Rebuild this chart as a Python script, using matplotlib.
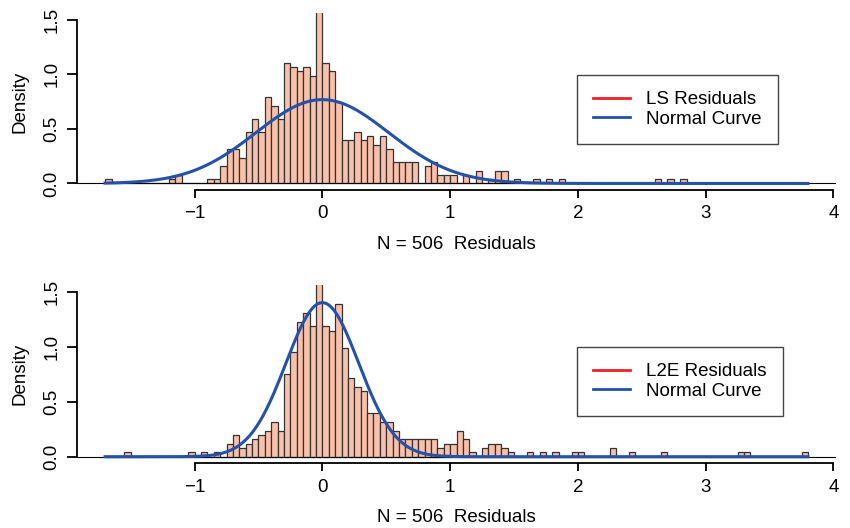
import matplotlib.pyplot as plt
import numpy as np

plt.rcParams['font.family'] = ['Liberation Sans', 'DejaVu Sans']

# histogram bins: left edge of each non-empty bin (width 0.05) and its count
ls_left = [-1.70, -1.20, -1.15, -0.90, -0.85, -0.80, -0.75, -0.70, -0.65, -0.60,
           -0.55, -0.50, -0.45, -0.40, -0.35, -0.30, -0.25, -0.20, -0.15, -0.10,
           -0.05, 0.00, 0.05, 0.10, 0.15, 0.20, 0.25, 0.30, 0.35, 0.40,
           0.45, 0.50, 0.55, 0.60, 0.65, 0.70, 0.80, 0.85, 0.90, 0.95,
           1.00, 1.10, 1.20, 1.30, 1.35, 1.40, 1.50, 1.65, 1.75, 1.85,
           2.60, 2.70, 2.80]
ls_counts = [1, 1, 2, 1, 1, 4, 8, 8, 6, 12,
             15, 12, 20, 18, 15, 28, 27, 26, 27, 25,
             41, 28, 26, 19, 10, 10, 12, 10, 11, 9,
             11, 8, 5, 5, 5, 5, 4, 5, 2, 2,
             2, 2, 3, 1, 3, 3, 1, 1, 1, 1,
             1, 1, 1]

l2e_left = [-1.55, -1.05, -0.95, -0.85, -0.75, -0.70, -0.65, -0.60, -0.55, -0.50,
            -0.45, -0.40, -0.35, -0.30, -0.25, -0.20, -0.15, -0.10, -0.05, 0.00,
            0.05, 0.10, 0.15, 0.20, 0.25, 0.30, 0.35, 0.40, 0.45, 0.50,
            0.55, 0.60, 0.65, 0.70, 0.75, 0.80, 0.85, 0.90, 0.95, 1.00,
            1.05, 1.10, 1.15, 1.25, 1.30, 1.35, 1.40, 1.45, 1.60, 1.70,
            1.80, 1.95, 2.00, 2.25, 2.40, 2.65, 3.25, 3.30, 3.75]
l2e_counts = [1, 1, 1, 1, 3, 5, 2, 3, 4, 5,
              6, 8, 6, 19, 24, 31, 33, 30, 47, 30,
              29, 35, 25, 18, 16, 15, 10, 10, 8, 8,
              6, 4, 4, 4, 4, 4, 4, 2, 3, 3,
              6, 4, 1, 2, 3, 3, 2, 1, 1, 1,
              1, 1, 1, 2, 1, 1, 1, 1, 1]

panels = [
    ("LS Residuals", ls_left, ls_counts, 0.519),
    ("L2E Residuals", l2e_left, l2e_counts, 0.285),
]
x_min, x_max = -1.70, 3.80
bin_w = 0.05

fill = '#F9C0AA'
blue = '#2552A8'
red = '#EE2128'
fs = 13.5

fig = plt.figure(figsize=(8.5, 5.28), dpi=100)
ax_rects = [[77/850, 1-190/528, 759/850, 176.7/528],
            [77/850, 1-463.3/528, 759/850, 178.3/528]]
leg_pos = [(577/850, 1-75/528), (577/850, 1-347/528)]

edges = np.round(np.arange(-34, 77) * bin_w, 2)
xs = np.linspace(x_min, x_max, 400)

for i, (name, left, counts, sd) in enumerate(panels):
    ax = fig.add_axes(ax_rects[i])
    centers = np.array(left) + bin_w / 2
    ax.hist(centers, bins=edges, weights=counts, density=True,
            color=fill, edgecolor='#333333', linewidth=0.9)
    ax.axhline(0, color='black', lw=0.8)
    pdf = np.exp(-0.5 * (xs / sd) ** 2) / (sd * np.sqrt(2 * np.pi))
    ax.plot(xs, pdf, color=blue, lw=2.2)

    ax.set_xlim(-1.92, 4.02)
    ax.set_ylim(-0.06, 1.56)
    for s in ['top', 'right']:
        ax.spines[s].set_visible(False)
    ax.spines['left'].set_bounds(0, 1.5)
    ax.spines['bottom'].set_bounds(-1, 4)
    ax.spines['left'].set_linewidth(1.3)
    ax.spines['bottom'].set_linewidth(1.3)
    ax.set_xticks([-1, 0, 1, 2, 3, 4])
    ax.set_yticks([0, 0.5, 1.0, 1.5])
    ax.set_yticklabels(['0.0', '0.5', '1.0', '1.5'], rotation=90, va='center')
    ax.tick_params(axis='x', length=6, width=1.3, pad=5, labelsize=fs)
    ax.tick_params(axis='y', length=7, width=1.3, pad=5, labelsize=fs)
    ax.set_xticklabels(['\u22121', '0', '1', '2', '3', '4'])
    ax.set_xlabel("N = 506  Residuals", fontsize=fs, labelpad=10)
    ax.set_ylabel("Density", fontsize=fs, labelpad=11)

    h1, = ax.plot([], [], color=red, lw=2)
    h2, = ax.plot([], [], color=blue, lw=2)
    leg = ax.legend([h1, h2], [name, "Normal Curve"], loc='upper left',
                    bbox_to_anchor=leg_pos[i], bbox_transform=fig.transFigure,
                    borderaxespad=0, fancybox=False, framealpha=1,
                    edgecolor='#444444', fontsize=fs, handlelength=1.95,
                    handletextpad=0.9, labelspacing=0.15, borderpad=0.85)
    leg.get_frame().set_linewidth(1.0)

fig.savefig('out.png', dpi=100)
